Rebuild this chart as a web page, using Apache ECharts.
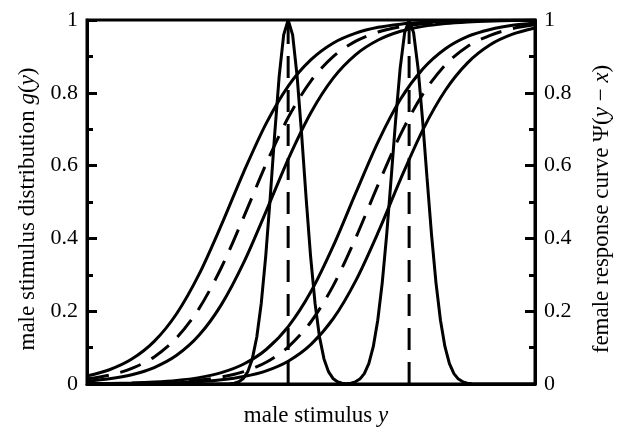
<!DOCTYPE html>
<html>
<head>
<meta charset="utf-8">
<script src="https://cdn.jsdelivr.net/npm/echarts@6/dist/echarts.min.js"></script>
<style>
html,body{margin:0;padding:0;background:#fff;}
#chart{width:624px;height:432px;}
</style>
</head>
<body>
<div id="chart"></div>
<script>
// y tick values (both axes)
var yTicks = [0, 0.2, 0.4, 0.6, 0.8, 1];

// male stimulus distribution g(y): two narrow peaks
var g1X = [0, 3.09,3.19,3.29,3.39,3.49,3.59,3.69,3.79,3.89,3.99,4.09,4.19,4.29,4.39,4.49,4.59,4.69,4.79,4.89,4.99,5.09,5.19,5.29,5.39,5.49,5.59,5.69,5.79,5.89];
var g1Y = [0, 0.0003,0.0009,0.0024,0.0064,0.0153,0.034,0.069,0.129,0.222,0.352,0.513,0.687,0.846,0.959,1,0.959,0.846,0.687,0.513,0.352,0.222,0.129,0.069,0.034,0.0153,0.0064,0.0024,0.0009,0.0003];
var g2X = [5.79,5.89,5.99,6.09,6.19,6.29,6.39,6.49,6.59,6.69,6.79,6.89,6.99,7.09,7.19,7.29,7.39,7.49,7.59,7.69,7.79,7.89,7.99,8.09,8.19,8.29,8.39,8.49,8.59, 10];
var g2Y = [0.0009,0.0024,0.006,0.0135,0.0285,0.056,0.1025,0.175,0.278,0.411,0.566,0.726,0.867,0.965,1,0.965,0.867,0.726,0.566,0.411,0.278,0.175,0.1025,0.056,0.0285,0.0135,0.006,0.0024,0.0009, 0];

// peak positions (vertical dashed lines)
var peakX = [4.49, 7.19];

// female response curves Psi(y - x)
var sX = [0,0.5,1,1.5,2,2.5,3,3.5,4,4.5,5,5.5,6,6.5,7,7.5,8,8.5,9,9.5,10];
var psiA1 = [0.0221,0.0392,0.0685,0.117,0.193,0.301,0.437,0.583,0.716,0.820,0.891,0.937,0.964,0.980,0.9886,0.9937,0.9965,0.998,0.9989,0.9994,0.9997];
var psiB1 = [0.0135,0.0242,0.0427,0.0744,0.1266,0.207,0.320,0.459,0.605,0.734,0.833,0.900,0.942,0.967,0.9814,0.9896,0.9942,0.9968,0.9982,0.999,0.9995];
var psiC1 = [0.0080,0.0144,0.0256,0.0453,0.0788,0.1337,0.218,0.334,0.475,0.620,0.746,0.841,0.905,0.945,0.969,0.9825,0.9902,0.9945,0.997,0.9983,0.9991];
var psiA2 = [0.0009,0.0017,0.003,0.0055,0.0098,0.0175,0.0312,0.0549,0.0948,0.159,0.254,0.380,0.525,0.666,0.783,0.866,0.921,0.955,0.974,0.9856,0.992];
var psiB2 = [0.0006,0.001,0.0018,0.0033,0.006,0.0107,0.0191,0.034,0.0597,0.1028,0.171,0.271,0.402,0.548,0.686,0.797,0.877,0.928,0.958,0.9766,0.9868];
var psiC2 = [0.0003,0.0006,0.0011,0.002,0.0035,0.0064,0.0114,0.0204,0.0361,0.0633,0.1087,0.180,0.284,0.417,0.563,0.699,0.807,0.883,0.932,0.961,0.978];

function zip(xs, ys){ return xs.map(function(x,i){ return [x, ys[i]]; }); }

var FONT = 'Liberation Serif';
var LW = 3;
var DASH = [22, 12];
var TFS = 23;

function psiSeries(vals, dashed){
  return {
    type:'line', yAxisIndex:1, data: zip(sX, vals), showSymbol:false,
    smooth:0.3, silent:true,
    lineStyle:{color:'#000', width:LW, type: dashed ? DASH : 'solid'}
  };
}

var series = [
  {type:'line', yAxisIndex:0, data: zip(g1X, g1Y), showSymbol:false, silent:true,
   lineStyle:{color:'#000', width:LW}},
  {type:'line', yAxisIndex:0, data: zip(g2X, g2Y), showSymbol:false, silent:true,
   lineStyle:{color:'#000', width:LW}},
  psiSeries(psiA1,false), psiSeries(psiB1,true), psiSeries(psiC1,false),
  psiSeries(psiA2,false), psiSeries(psiB2,true), psiSeries(psiC2,false)
];
peakX.forEach(function(p){
  series.push({type:'line', yAxisIndex:0, data:[[p,0],[p,1]], showSymbol:false, silent:true,
    lineStyle:{color:'#000', width:LW, type:DASH}});
});

var richStyles = {
  i:{fontStyle:'italic', fontFamily:FONT, fontSize:TFS, color:'#000'},
  n:{fontFamily:FONT, fontSize:TFS, color:'#000'}
};

function yAxisCfg(pos, name, gap, pad){
  return {
    type:'value', position:pos, min:0, max:1, interval:0.2,
    axisLine:{show:true, lineStyle:{color:'#000', width:LW}},
    axisTick:{show:true, inside:true, length:10, lineStyle:{color:'#000', width:LW}},
    minorTick:{show:true, splitNumber:2, length:6, lineStyle:{color:'#000', width:LW}},
    splitLine:{show:false},
    axisLabel:{color:'#000', fontFamily:FONT, fontSize:22, margin:9},
    name:name, nameLocation:'middle', nameGap:gap,
    nameTextStyle:{color:'#000', fontFamily:FONT, fontSize:TFS, rich:richStyles, padding:pad}
  };
}

var chart = echarts.init(document.getElementById('chart'), null, {renderer:'canvas'});
chart.setOption({
  animation:false,
  backgroundColor:'#fff',
  grid:{left:87, right:89, top:20, bottom:39, show:true, borderColor:'#000', borderWidth:LW, backgroundColor:'transparent'},
  xAxis:{
    type:'value', min:0, max:10,
    axisLine:{show:true, lineStyle:{color:'#000', width:LW}},
    axisTick:{show:false}, axisLabel:{show:false}, splitLine:{show:false},
    name:'{n|male stimulus }{i|y}', nameLocation:'middle', nameGap:20,
    nameTextStyle:{color:'#000', fontFamily:FONT, fontSize:TFS, rich:richStyles, padding:[0,0,0,10]}
  },
  yAxis:[
    yAxisCfg('left', '{n|male stimulus distribution }{i|g}{n|(}{i|y}{n|)}', 47, [0,14,0,0]),
    yAxisCfg('right', '{n|female response curve Ψ(}{i|y}{n| − }{i|x}{n|)}', 55, [0,14,0,0])
  ],
  series: series
});
</script>
</body>
</html>
